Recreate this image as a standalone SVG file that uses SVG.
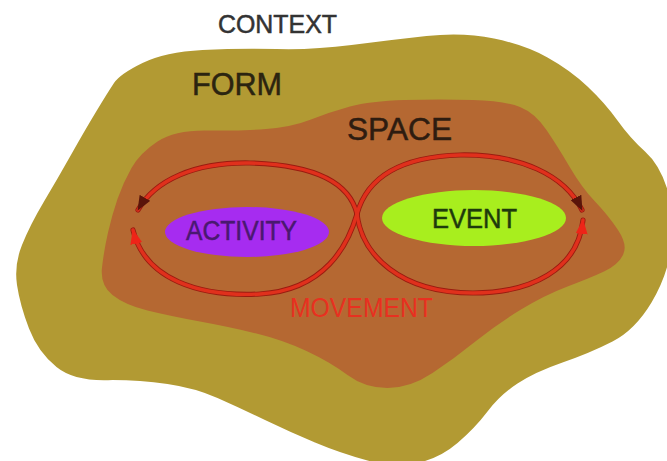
<svg xmlns="http://www.w3.org/2000/svg" xmlns:xlink="http://www.w3.org/1999/xlink" width="667" height="461" viewBox="0 0 667 461">
  <style>
    .lbl { font-family: "Liberation Sans", Arial, sans-serif; stroke-width: 0.5; }
    .under { fill: none; stroke: #9a1c10; stroke-width: 5.2; stroke-linecap: round; }
    .top { fill: none; stroke: #e0301c; stroke-width: 3.4; stroke-linecap: round; }
  </style>
  <defs>
    <marker id="ahDark" markerUnits="userSpaceOnUse" markerWidth="15" markerHeight="12" viewBox="0 0 15 12" refX="14" refY="6" orient="auto">
      <path d="M0,0 L15,6 L0,12 Z" fill="#5a140a"/>
    </marker>
    <marker id="ahRed" markerUnits="userSpaceOnUse" markerWidth="15" markerHeight="12" viewBox="0 0 15 12" refX="14" refY="6" orient="auto">
      <path d="M0,0 L15,6 L0,12 Z" fill="#ee2418"/>
    </marker>
    <path id="leftUpper" d="M357,214 C350,185 320,165 250,163 C195,162 155,180 138,210"/>
    <path id="leftLower" d="M357,214 C348,245 325,290 260,294 C200,297 145,280 133,230"/>
    <path id="rightUpper" d="M357,214 C365,185 390,157 460,155 C520,154 565,175 582,210"/>
    <path id="rightLower" d="M357,214 C362,255 400,293 473,293 C530,293 578,270 583,220"/>
  </defs>

  <rect width="667" height="461" fill="#ffffff"/>

  <!-- outer region: form -->
  <g id="form">
    <path fill="#b29a33" d="M114,83 Q120,74 142.5,63 Q165,52 202.5,50 Q240,48 276.5,49 Q313,50 351.5,45 Q390,40 426.5,36 Q463,32 494,38.5 Q525,45 547.5,57.5 Q570,70 587.5,86.5 Q605,103 617.5,120.5 Q630,138 645,151.5 Q660,165 667.5,190 Q675,215 671.5,245 Q668,275 651.5,302.5 Q635,330 612.5,341.5 Q590,353 562.5,362.5 Q535,372 517.5,383.5 Q500,395 487.5,411.5 Q475,428 457.5,443 Q440,458 417.5,463 Q395,468 367.5,460.5 Q340,453 315,442.5 Q290,432 265,420 Q240,408 217.5,398 Q195,388 167.5,384 Q140,380 112.5,380 Q75,382 56.5,367 Q38,352 29,328.5 Q20,305 17,285 Q14,265 22,245 Q30,225 44,201.5 Q58,178 71.5,154 Q85,130 96.5,111 Q108,92 114,83 Z"/>
    <text class="lbl" x="192" y="95" font-size="31" fill="#2b2410" stroke="#2b2410" textLength="90" lengthAdjust="spacingAndGlyphs">FORM</text>
  </g>

  <!-- inner region: space -->
  <g id="space">
    <path fill="#b56832" d="M157.5,141.5 Q175,130 207.5,130.5 Q240,131 266,129 Q292,127 311,119.5 Q330,112 350,106.5 Q370,101 405,100 Q440,99 472.5,100 Q505,101 520,107 Q535,113 546.5,130 Q558,147 570,167.5 Q582,188 595,201.5 Q608,215 618,230 Q628,245 623,255 Q618,265 604,271.5 Q590,278 567.5,286.5 Q545,295 521,309.5 Q497,324 476,341 Q455,358 432.5,373 Q410,388 387.5,388 Q365,388 347.5,375 Q330,362 306.5,351 Q283,340 256.5,333.5 Q230,327 200,321.5 Q170,316 147.5,310.5 Q125,305 112.5,295 Q100,285 102,267.5 Q104,250 108,232.5 Q112,215 117.5,199 Q123,183 131.5,168 Q140,153 157.5,141.5 Z"/>
    <text class="lbl" x="347" y="140" font-size="32" fill="#2e1c10" stroke="#2e1c10" textLength="105" lengthAdjust="spacingAndGlyphs">SPACE</text>
  </g>

  <g id="context">
    <text class="lbl" x="218" y="33" font-size="25" fill="#333333" stroke="#333333" textLength="119" lengthAdjust="spacingAndGlyphs">CONTEXT</text>
  </g>

  <g id="activity">
    <ellipse cx="247" cy="232" rx="82" ry="25" fill="#a62cf0"/>
    <text class="lbl" x="186" y="240" font-size="27" fill="#4a1870" stroke="#4a1870" textLength="111" lengthAdjust="spacingAndGlyphs">ACTIVITY</text>
  </g>

  <g id="event">
    <ellipse cx="474" cy="218" rx="92" ry="28" fill="#a8ee1e"/>
    <text class="lbl" x="432" y="228" font-size="27" fill="#1e3a0c" stroke="#1e3a0c" textLength="85" lengthAdjust="spacingAndGlyphs">EVENT</text>
  </g>

  <!-- movement loops (figure eight) -->
  <g id="connectors">
    <use xlink:href="#leftUpper" class="under"/>
    <use xlink:href="#leftLower" class="under"/>
    <use xlink:href="#rightUpper" class="under"/>
    <use xlink:href="#rightLower" class="under"/>
    <use xlink:href="#leftUpper" class="top" marker-end="url(#ahDark)"/>
    <use xlink:href="#leftLower" class="top" marker-end="url(#ahRed)"/>
    <use xlink:href="#rightUpper" class="top" marker-end="url(#ahDark)"/>
    <use xlink:href="#rightLower" class="top" marker-end="url(#ahRed)"/>
  </g>

  <g id="movement">
    <text class="lbl" x="290" y="317" font-size="27" fill="#e83020" textLength="143" lengthAdjust="spacingAndGlyphs">MOVEMENT</text>
  </g>
</svg>
